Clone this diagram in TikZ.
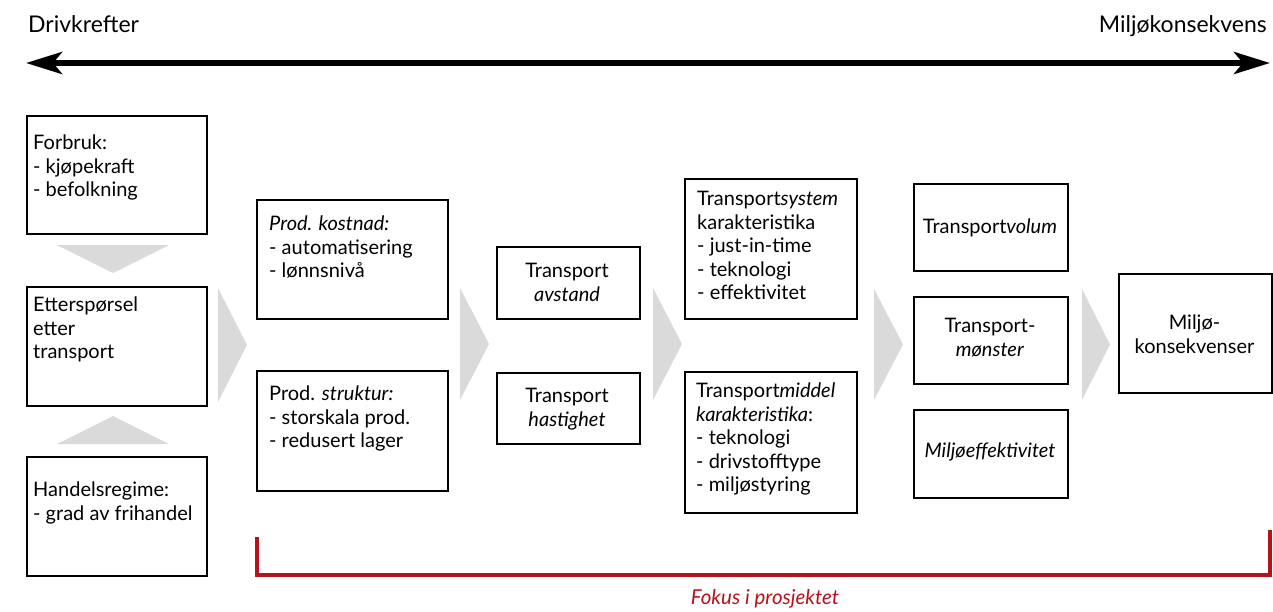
\documentclass[tikz,border=0pt]{standalone}
\usepackage{fontspec}
\setmainfont{Lato}
\usetikzlibrary{arrows.meta,calc}
\definecolor{tri}{RGB}{218,218,218}
\definecolor{fokus}{RGB}{181,18,27}
\tikzset{
  box/.style={draw=black, line width=2pt, inner sep=0pt, anchor=north west},
  txt/.style={inner sep=0pt, align=left, anchor=north west, font=\fontsize{20}{23.5}\selectfont},
  ctxt/.style={inner sep=0pt, align=center, anchor=north, font=\fontsize{20}{23.5}\selectfont},
  title/.style={inner sep=0pt, font=\fontsize{23}{27}\selectfont},
  chev/.style={fill=tri, draw=none},
}
\begin{document}
\begin{tikzpicture}[x=1pt,y=-1pt]
\useasboundingbox (0,0) rectangle (1273,611);
% top arrow
\coordinate (aL) at (26,63);
\coordinate (aR) at (1270,63);
\draw[line width=6pt, {Stealth[length=36pt,width=22pt,inset=9pt]}-{Stealth[length=36pt,width=22pt,inset=9pt]}] (aL) -- (aR);
\node[title, anchor=north west] (drv) at (28,15) {Drivkrefter};
\node[title, anchor=north east] (mk) at (1267,15) {Miljøkonsekvens};
% boxes
\node[box, minimum width=180pt, minimum height=118pt] (forbruk) at (26,115) {};
\node[box, minimum width=180pt, minimum height=119pt] (ettersp) at (26,286) {};
\node[box, minimum width=180pt, minimum height=119pt] (handel) at (26,456) {};
\node[box, minimum width=191pt, minimum height=119pt] (kost) at (256,199) {};
\node[box, minimum width=191pt, minimum height=120pt] (strukt) at (256,370) {};
\node[box, minimum width=143pt, minimum height=72pt] (avstand) at (496,246) {};
\node[box, minimum width=143pt, minimum height=71pt] (hast) at (496,372) {};
\node[box, minimum width=172pt, minimum height=140pt] (system) at (684,178) {};
\node[box, minimum width=172pt, minimum height=141pt] (middel) at (684,371) {};
\node[box, minimum width=154pt, minimum height=87pt] (volum) at (913,183) {};
\node[box, minimum width=154pt, minimum height=87pt] (monster) at (913,296) {};
\node[box, minimum width=154pt, minimum height=88pt] (miljoeff) at (913,409) {};
\node[box, minimum width=153pt, minimum height=119pt] (konsek) at (1118,273) {};
% texts
\node[txt] (forbruk-t) at (33,135) {Forbruk:\\- kjøpekraft\\- befolkning};
\node[txt] (ettersp-t) at (33,297) {Etterspørsel\\etter\\transport};
\node[txt] (handel-t) at (33,482) {Handelsregime:\\- grad av frihandel};
\node[txt] (kost-t) at (269,216) {\textit{Prod. kostnad:}\\- automatisering\\- lønnsnivå};
\node[txt] (strukt-t) at (269,386) {Prod. \textit{struktur:}\\- storskala prod.\\- redusert lager};
\node[ctxt] (avstand-t) at (567,263) {Transport\\\textit{avstand}};
\node[ctxt] (hast-t) at (567,388) {Transport\\\textit{hastighet}};
\node[txt] (system-t) at (697,191) {Transport\textit{system}\\karakteristika\\- just-in-time\\- teknologi\\- effektivitet};
\node[txt] (middel-t) at (696,383) {Transport\textit{middel}\\\textit{karakteristika}:\\- teknologi\\- drivstofftype\\- miljøstyring};
\node[ctxt] (volum-t) at (990,219) {Transport\textit{volum}};
\node[ctxt] (monster-t) at (990,318) {Transport-\\\textit{mønster}};
\node[ctxt] (miljoeff-t) at (990,443) {\textit{Miljøeffektivitet}};
\node[ctxt] (konsek-t) at (1194.5,315) {Miljø-\\konsekvenser};
% grey chevrons
\fill[chev] (57,245) -- (169,245) -- (113,273) -- cycle;
\fill[chev] (57,444) -- (169,444) -- (113,416) -- cycle;
\fill[chev] (218,288) -- (218,402) -- (247,345) -- cycle;
\fill[chev] (460,288) -- (460,400) -- (489,344) -- cycle;
\fill[chev] (653,288) -- (653,400) -- (682,344) -- cycle;
\fill[chev] (874,289) -- (874,400) -- (903,344.5) -- cycle;
\fill[chev] (1082,289) -- (1082,400) -- (1110,344.5) -- cycle;
% focus bracket
\coordinate (bL) at (257,537);
\coordinate (bR) at (1270,530);
\draw[fokus, line width=3.5pt] (bL) -- (bL |- 0,575) -- (bR |- 0,575) -- (bR);
\node[ctxt, text=fokus, font=\fontsize{20.5}{24}\selectfont\itshape] (fok) at (765,589) {Fokus i prosjektet};
\end{tikzpicture}
\end{document}
